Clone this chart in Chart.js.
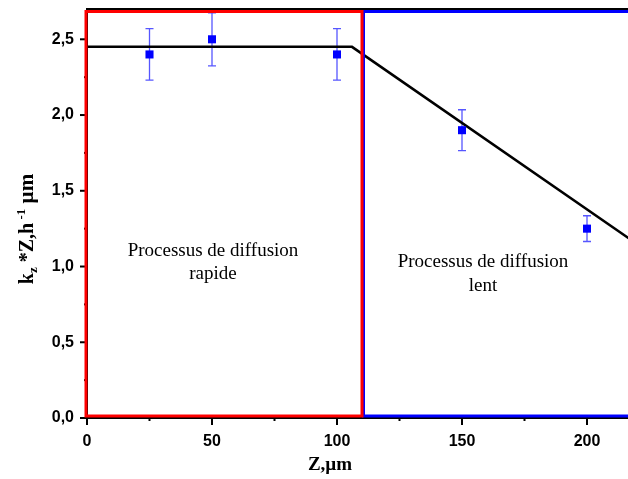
<!DOCTYPE html>
<html>
<head>
<meta charset="utf-8">
<script src="https://cdn.jsdelivr.net/npm/chart.js@4"></script>
<style>body{margin:0;background:#fff}</style>
</head>
<body>
<canvas id="chart" width="628" height="479"></canvas>
<script>
// measured points (Z in µm, kz*Z in h^-1 µm)
const depths = [25, 50, 100, 150, 200];
const kzValues = [2.40, 2.50, 2.40, 1.90, 1.25];
const kzErrors = [0.17, 0.175, 0.17, 0.135, 0.085];

// fitted line: plateau then decrease
const fitX = [0, 106, 230];
const fitY = [2.45, 2.45, 1.035];

const xTicks = [0, 50, 100, 150, 200];
const yTicks = [0, 0.5, 1, 1.5, 2, 2.5];

// zones
const fastZone = [0, 110];
const slowZone = [110, 240];

const serif = "'Liberation Serif', 'Times New Roman', serif";
const sans = "'Liberation Sans', Arial, sans-serif";

function drawRich(ctx, parts) {
  let total = 0;
  parts.forEach(p => {
    ctx.font = "bold " + p.size + "px " + serif;
    p.w = ctx.measureText(p.t).width;
    total += p.w;
  });
  let x = -total / 2;
  parts.forEach(p => {
    ctx.font = "bold " + p.size + "px " + serif;
    ctx.fillText(p.t, x, p.dy);
    x += p.w;
  });
}

function noPad(s) {
  s.paddingLeft = 0; s.paddingRight = 0;
  s.paddingTop = 0; s.paddingBottom = 0;
}

const decorations = {
  id: "decorations",
  beforeDatasetsDraw(chart) {
    const ctx = chart.ctx;
    const xs = chart.scales.x, ys = chart.scales.y;
    // error bars
    ctx.save();
    ctx.strokeStyle = "rgba(30,30,255,0.75)";
    ctx.lineWidth = 1.3;
    depths.forEach((d, i) => {
      const px = xs.getPixelForValue(d);
      const top = ys.getPixelForValue(kzValues[i] + kzErrors[i]);
      const bot = ys.getPixelForValue(kzValues[i] - kzErrors[i]);
      ctx.beginPath();
      ctx.moveTo(px, top); ctx.lineTo(px, bot);
      ctx.moveTo(px - 4, top); ctx.lineTo(px + 4, top);
      ctx.moveTo(px - 4, bot); ctx.lineTo(px + 4, bot);
      ctx.stroke();
    });
    ctx.restore();
  },
  afterDraw(chart) {
    const ctx = chart.ctx;
    const xs = chart.scales.x, ys = chart.scales.y;
    const area = chart.chartArea;
    ctx.save();

    // top frame line
    ctx.strokeStyle = "#000";
    ctx.lineWidth = 2;
    ctx.beginPath();
    ctx.moveTo(area.left, area.top);
    ctx.lineTo(chart.width, area.top);
    ctx.stroke();

    // tick marks (outside)
    ctx.lineWidth = 2;
    yTicks.forEach((v, i) => {
      const py = ys.getPixelForValue(v);
      ctx.beginPath(); ctx.moveTo(area.left - 7, py); ctx.lineTo(area.left, py); ctx.stroke();
      if (i < yTicks.length - 1) {
        const pm = ys.getPixelForValue((v + yTicks[i + 1]) / 2);
        ctx.beginPath(); ctx.moveTo(area.left - 3, pm); ctx.lineTo(area.left, pm); ctx.stroke();
      }
    });
    xTicks.forEach((v, i) => {
      const px = xs.getPixelForValue(v);
      ctx.beginPath(); ctx.moveTo(px, area.bottom); ctx.lineTo(px, area.bottom + 7); ctx.stroke();
      const next = i < xTicks.length - 1 ? xTicks[i + 1] : v + 50;
      const pm = xs.getPixelForValue((v + next) / 2);
      if (pm < area.right) {
        ctx.beginPath(); ctx.moveTo(pm, area.bottom); ctx.lineTo(pm, area.bottom + 3); ctx.stroke();
      }
    });

    // zone rectangles
    const yT = area.top + 2.5, yB = area.bottom - 2;
    ctx.lineWidth = 3;
    ctx.strokeStyle = "#0000ff";
    const b0 = xs.getPixelForValue(slowZone[0]) + 1.5;
    ctx.strokeRect(b0, yT, xs.getPixelForValue(slowZone[1]) - b0, yB - yT);
    ctx.strokeStyle = "#ff0000";
    const r0 = xs.getPixelForValue(fastZone[0]) - 1;
    ctx.strokeRect(r0, yT, xs.getPixelForValue(fastZone[1]) - r0, yB - yT);

    // zone captions
    ctx.fillStyle = "#000";
    ctx.textAlign = "center";
    ctx.textBaseline = "alphabetic";
    ctx.font = "19px " + serif;
    ctx.fillText("Processus de diffusion", 213, 256);
    ctx.fillText("rapide", 213, 279);
    ctx.fillText("Processus de diffusion", 483, 267);
    ctx.fillText("lent", 483, 291);

    // x title
    ctx.font = "bold 19px " + serif;
    ctx.fillText("Z,µm", 330, 470);

    // y title
    ctx.translate(33, 229);
    ctx.rotate(-Math.PI / 2);
    ctx.textAlign = "left";
    drawRich(ctx, [
      { t: "k", size: 20, dy: 0 },
      { t: "z", size: 13, dy: 4 },
      { t: " *", size: 20, dy: 0 },
      { t: "Z,h", size: 20, dy: 0 },
      { t: " -1", size: 13, dy: -8 },
      { t: " µm", size: 21, dy: 0 }
    ]);
    ctx.restore();
  }
};

new Chart(document.getElementById("chart"), {
  type: "scatter",
  data: {
    datasets: [
      {
        label: "kz*Z",
        data: depths.map((d, i) => ({ x: d, y: kzValues[i] })),
        pointStyle: "rect",
        pointRadius: 5.7,
        backgroundColor: "#0000ff",
        borderColor: "#0000ff",
        borderWidth: 0
      },
      {
        label: "fit",
        data: fitX.map((x, i) => ({ x: x, y: fitY[i] })),
        showLine: true,
        pointRadius: 0,
        borderColor: "#000",
        borderWidth: 2.5
      }
    ]
  },
  options: {
    responsive: false,
    animation: false,
    layout: { autoPadding: false, padding: { top: 9, right: 0, left: 0, bottom: 0 } },
    plugins: { legend: { display: false }, tooltip: { enabled: false } },
    scales: {
      x: {
        type: "linear",
        min: 0,
        max: 216.4,
        afterBuildTicks: s => { s.ticks = xTicks.map(v => ({ value: v })); },
        afterFit: s => { s.height = 61; noPad(s); },
        grid: { display: false, tickLength: 7 },
        border: { color: "#000", width: 2 },
        ticks: { color: "#000", padding: 7, font: { family: sans, size: 16, weight: "bold" } }
      },
      y: {
        min: 0,
        max: 2.7,
        afterBuildTicks: s => { s.ticks = yTicks.map(v => ({ value: v })); },
        afterFit: s => { s.width = 87; noPad(s); },
        grid: { display: false, tickLength: 8 },
        border: { color: "#000", width: 2 },
        ticks: {
          color: "#000",
          padding: 5,
          font: { family: sans, size: 16, weight: "bold" },
          callback: v => v.toFixed(1).replace(".", ",")
        }
      }
    }
  },
  plugins: [decorations]
});
</script>
</body>
</html>
